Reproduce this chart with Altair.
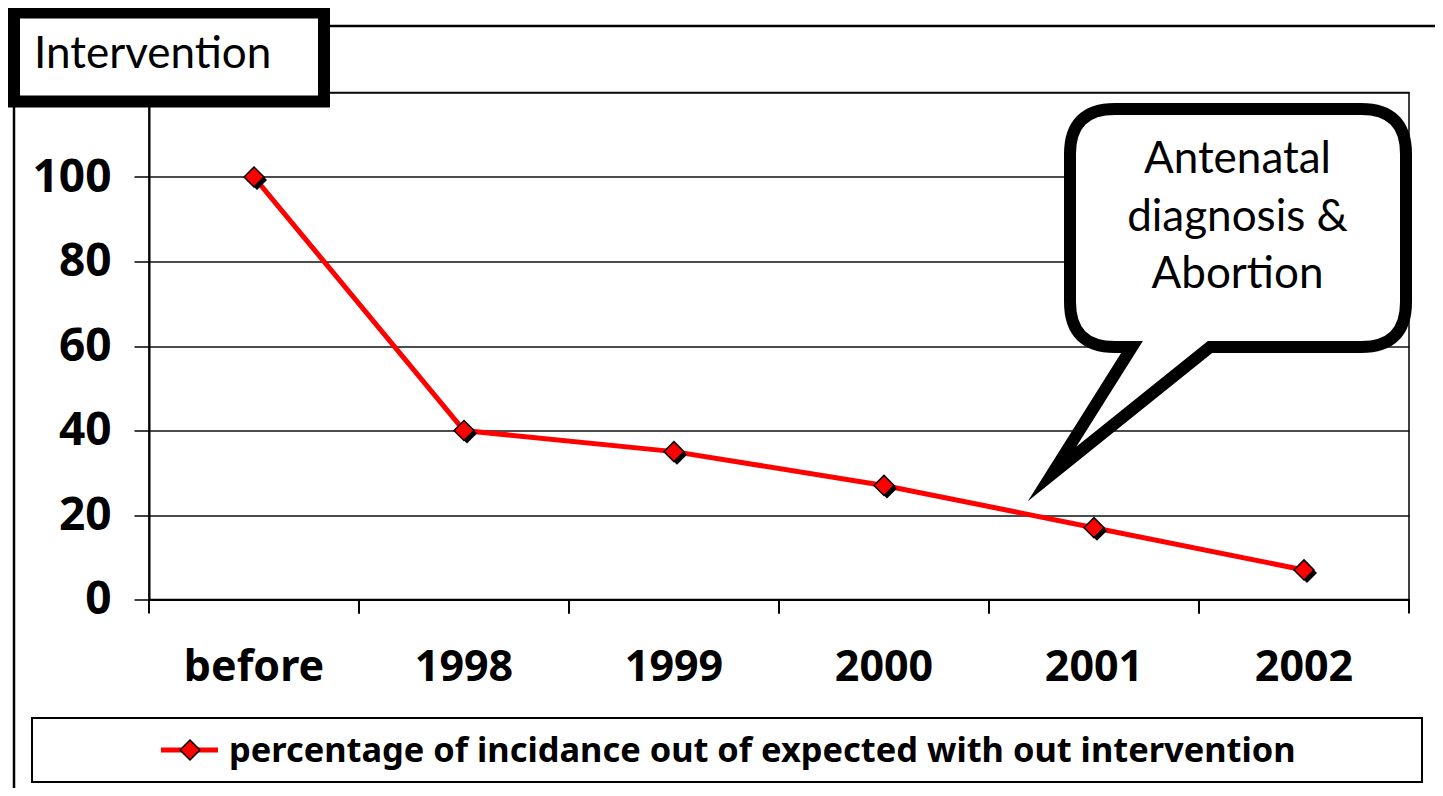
import altair as alt
import pandas as pd

# ---------------- data ----------------
categories = ["before", "1998", "1999", "2000", "2001", "2002"]
values = [100, 40, 35, 27, 17, 7]
y_ticks = [0, 20, 40, 60, 80, 100, 120]
series_name = "percentage of incidance out of expected with out intervention"
box_label = "Intervention"
callout_lines = ["Antenatal", "diagnosis &", "Abortion"]

# ---------------- layout (page pixels) ----------------
W, H = 1260, 507
OX, OY = 149, 92.5  # plot origin on the page


def px(x):
    return x - OX


def py(y):
    return y - OY


df = pd.DataFrame({"cat": categories, "val": values})
one = pd.DataFrame({"k": [0]})

AXIS_FONT = "Noto Sans"
RED = "#FF0000"

xscale = alt.Scale(type="band", paddingInner=0, paddingOuter=0)

x_main = alt.X(
    "cat:N", sort=categories, scale=xscale,
    axis=alt.Axis(
        title=None, labelAngle=0, ticks=False, tickSize=0, grid=False,
        domain=True, domainColor="black", domainWidth=2,
        labelFont=AXIS_FONT, labelFontWeight="bold", labelFontSize=43,
        labelColor="black", labelBaseline="alphabetic", labelPadding=81,
    ),
)
y_main = alt.Y(
    "val:Q", scale=alt.Scale(domain=[0, 120], nice=False, zero=True),
    axis=alt.Axis(
        values=y_ticks, title=None, grid=True, gridColor="#111111", gridWidth=1.5,
        tickSize=15, tickColor="black", tickWidth=1.5,
        domain=True, domainColor="black", domainWidth=2,
        # the top label (120) is hidden behind the "Intervention" box in the original
        labelExpr="datum.value >= 120 ? '' : datum.label",
        labelFont=AXIS_FONT, labelFontWeight="bold", labelFontSize=46,
        labelColor="black", labelPadding=23,
    ),
)

base = alt.Chart(df)

line = base.mark_line(color=RED, strokeWidth=5).encode(x=x_main, y=y_main)
shadow = base.mark_point(shape="diamond", filled=True, color="black", size=400,
                         opacity=1, xOffset=3, yOffset=3).encode(
    x=alt.X("cat:N", sort=categories), y="val:Q")
markers = base.mark_point(shape="diamond", filled=True, fill=RED, stroke="black",
                          strokeWidth=1.5, size=400, opacity=1).encode(
    x=alt.X("cat:N", sort=categories), y="val:Q")

ticks0 = base.mark_rule(color="black", strokeWidth=2).encode(
    x=alt.X("cat:N", sort=categories, bandPosition=0),
    y=alt.value(H), y2=alt.value(H + 14))
ticks1 = base.mark_rule(color="black", strokeWidth=2).encode(
    x=alt.X("cat:N", sort=categories, bandPosition=1),
    y=alt.value(H), y2=alt.value(H + 14))

# outer frame of the chart
frame = alt.Chart(one).mark_rect(fill="white", fillOpacity=0, stroke="black",
                                 strokeWidth=2.5).encode(
    x=alt.value(px(14)), x2=alt.value(px(1437)),
    y=alt.value(py(26)), y2=alt.value(py(840)))

# legend
leg_box = alt.Chart(one).mark_rect(fill="white", stroke="black", strokeWidth=2).encode(
    x=alt.value(px(32)), x2=alt.value(px(1422)),
    y=alt.value(py(718)), y2=alt.value(py(782)))
leg_line = alt.Chart(one).mark_rule(color=RED, strokeWidth=5).encode(
    x=alt.value(px(161)), x2=alt.value(px(218)), y=alt.value(py(750)))
leg_pt = alt.Chart(one).mark_point(shape="diamond", filled=True, fill=RED, stroke="black",
                                   strokeWidth=1.5, size=400, opacity=1).encode(
    x=alt.value(px(190)), y=alt.value(py(750)))
leg_text = alt.Chart(one).mark_text(
    align="left", baseline="alphabetic", font=AXIS_FONT, fontWeight="bold",
    fontSize=34.4, color="black").encode(
    x=alt.value(px(229)), y=alt.value(py(762)), text=alt.value(series_name))

# "Intervention" box
int_box = alt.Chart(one).mark_rect(fill="white", stroke="black", strokeWidth=12).encode(
    x=alt.value(px(14)), x2=alt.value(px(324)),
    y=alt.value(py(12.5)), y2=alt.value(py(101.5)))
int_text = alt.Chart(one).mark_text(
    align="left", baseline="alphabetic", font="Lato", fontSize=44, color="black").encode(
    x=alt.value(px(34)), y=alt.value(py(68)), text=alt.value(box_label))

# callout bubble as one custom symbol path
L, R, T, B, rad = 1070, 1406, 109, 347, 45
tail_l, tail_r, tip = 1132, 1210, (1052, 474)
pts_x = [L, R, tip[0]]
pts_y = [T, B, tip[1]]
xmin, xmax = min(pts_x), max(pts_x)
ymin, ymax = min(pts_y), max(pts_y)
cx, cy = (xmin + xmax) / 2, (ymin + ymax) / 2
half = max(xmax - xmin, ymax - ymin) / 2


def n(x, y):
    return f"{(x - cx) / half:.4f},{(y - cy) / half:.4f}"


path = (
    f"M{n(L + rad, T)}L{n(R - rad, T)}Q{n(R, T)} {n(R, T + rad)}"
    f"L{n(R, B - rad)}Q{n(R, B)} {n(R - rad, B)}"
    f"L{n(tail_r, B)}L{n(*tip)}L{n(tail_l, B)}"
    f"L{n(L + rad, B)}Q{n(L, B)} {n(L, B - rad)}"
    f"L{n(L, T + rad)}Q{n(L, T)} {n(L + rad, T)}Z"
)
bubble = alt.Chart(one).mark_point(
    shape=path, filled=True, fill="white", stroke="black", strokeWidth=12,
    strokeMiterLimit=10, size=(2 * half) ** 2, opacity=1).encode(
    x=alt.value(px(cx)), y=alt.value(py(cy)))
bubble_text = alt.Chart(one).mark_text(
    align="center", baseline="alphabetic", font="Lato", fontSize=44, color="black",
    lineHeight=57.5).encode(
    x=alt.value(px(1237.5)), y=alt.value(py(173)), text=alt.value(callout_lines))

chart = alt.layer(
    line, frame, ticks0, ticks1, shadow, markers,
    leg_box, leg_line, leg_pt, leg_text,
    int_box, int_text, bubble, bubble_text,
).properties(
    width=W, height=H,
    autosize=alt.AutoSizeParams(type="none"),
    padding={"left": OX - 8, "top": OY - 8, "right": 1427 - (OX - 8) - W,
             "bottom": 780 - (OY - 8) - H},
    background="white",
).configure_view(stroke="black", strokeWidth=1.5)

chart.save("out.html", embed_options={"renderer": "svg", "actions": False})
